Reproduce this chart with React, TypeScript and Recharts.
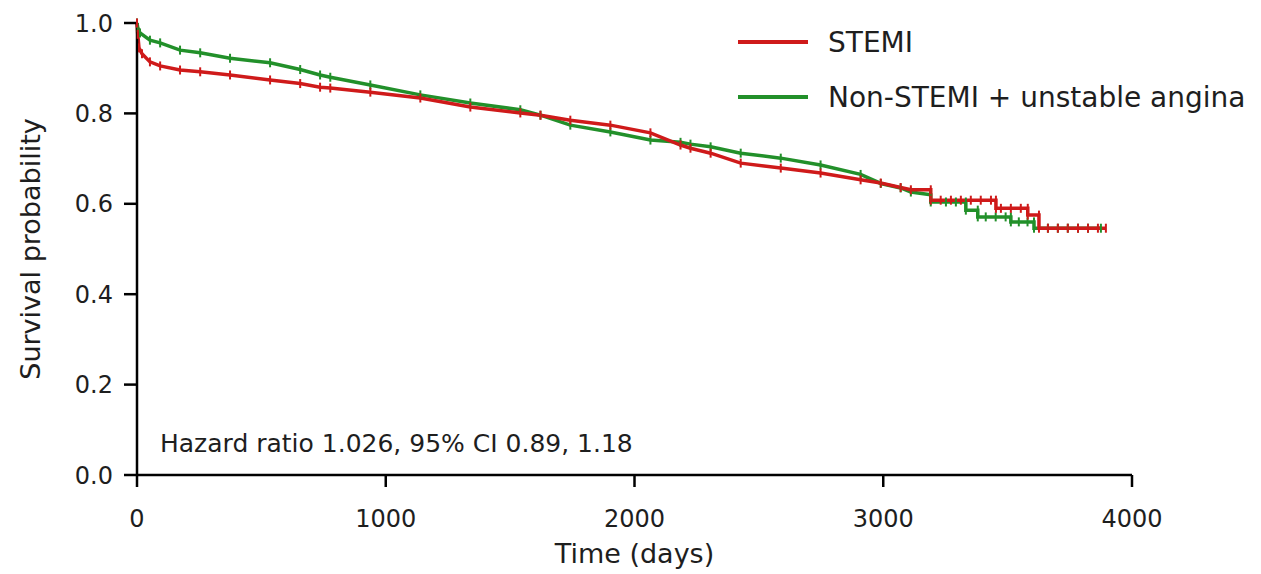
import { LineChart, Line, XAxis, YAxis } from 'recharts';

const stemiDays = [0, 3, 8, 20, 52, 93, 173, 254, 374, 535, 656, 736, 777, 938, 1139, 1340, 1541, 1622, 1742, 1903, 2064, 2185, 2225, 2306, 2427, 2588, 2748, 2909, 2990, 3070, 3111, 3191, 3191, 3231, 3272, 3312, 3352, 3392, 3433, 3453, 3453, 3473, 3513, 3553, 3581, 3581, 3626, 3626, 3662, 3702, 3742, 3783, 3823, 3863, 3895];
const stemiSurv = [1.0, 0.975, 0.945, 0.932, 0.914, 0.905, 0.896, 0.892, 0.885, 0.874, 0.866, 0.858, 0.856, 0.847, 0.834, 0.814, 0.801, 0.796, 0.785, 0.774, 0.757, 0.73, 0.723, 0.712, 0.69, 0.679, 0.668, 0.653, 0.646, 0.636, 0.631, 0.631, 0.608, 0.608, 0.608, 0.608, 0.608, 0.608, 0.608, 0.608, 0.59, 0.59, 0.59, 0.59, 0.59, 0.575, 0.575, 0.546, 0.546, 0.546, 0.546, 0.546, 0.546, 0.546, 0.546];

const nstemiDays = [0, 3, 12, 52, 93, 173, 254, 374, 535, 656, 736, 777, 938, 1139, 1340, 1541, 1622, 1742, 1903, 2064, 2185, 2225, 2306, 2427, 2588, 2748, 2909, 2990, 3070, 3111, 3191, 3191, 3252, 3292, 3332, 3332, 3380, 3380, 3412, 3452, 3492, 3513, 3513, 3545, 3580, 3606, 3606, 3662, 3702, 3742, 3783, 3823, 3875];
const nstemiSurv = [1.0, 0.99, 0.978, 0.962, 0.956, 0.94, 0.934, 0.922, 0.912, 0.897, 0.885, 0.88, 0.863, 0.841, 0.823, 0.808, 0.796, 0.774, 0.759, 0.741, 0.736, 0.732, 0.726, 0.712, 0.701, 0.686, 0.665, 0.645, 0.635, 0.626, 0.62, 0.604, 0.604, 0.604, 0.604, 0.586, 0.586, 0.571, 0.571, 0.571, 0.571, 0.571, 0.56, 0.56, 0.56, 0.56, 0.546, 0.546, 0.546, 0.546, 0.546, 0.546, 0.546];

const xTicks = [0, 1000, 2000, 3000, 4000];
const yTicks = [0, 0.2, 0.4, 0.6, 0.8, 1.0];

const RED = '#cf1a1a';
const GREEN = '#22902a';
const TEXT = '#1e1e1e';
const FONT = '"DejaVu Sans", sans-serif';

const stemiRows = stemiDays.map((t, i) => ({ t, s: stemiSurv[i] }));
const nstemiRows = nstemiDays.map((t, i) => ({ t, s: nstemiSurv[i] }));

// small vertical tick = censoring mark
const censorMark = (color: string) => (props: any) => {
  const { cx, cy, index } = props;
  if (cx == null || cy == null) return <g key={index} />;
  return <path key={index} d={`M${cx},${cy - 4.5}V${cy + 4.5}`} stroke={color} strokeWidth={2} />;
};

const axisStyle = { stroke: '#000', strokeWidth: 2.5 };

export default function App() {
  return (
    <div style={{ position: 'absolute', left: 0, top: 0, width: 1261, height: 574, background: '#fff' }}>
      <LineChart width={1261} height={574} margin={{ top: 23, right: 129, bottom: 0, left: 0 }}>
        <XAxis
          type="number"
          dataKey="t"
          domain={[0, 4000]}
          ticks={xTicks}
          height={99}
          tickSize={12}
          tickMargin={23}
          axisLine={axisStyle}
          tickLine={axisStyle}
          tick={{ fill: TEXT, fontSize: 24, fontFamily: FONT }}
          label={{ value: 'Time (days)', position: 'insideBottom', offset: 11, fill: TEXT, fontSize: 27, fontFamily: FONT }}
        />
        <YAxis
          type="number"
          domain={[0, 1]}
          ticks={yTicks}
          width={137}
          tickSize={13}
          tickMargin={11}
          axisLine={axisStyle}
          tickLine={axisStyle}
          tickFormatter={(v: number) => v.toFixed(1)}
          tick={{ fill: TEXT, fontSize: 24, fontFamily: FONT }}
          label={{ value: 'Survival probability', angle: -90, position: 'center', dx: -38, fill: TEXT, fontSize: 27, fontFamily: FONT }}
        />
        <Line
          data={nstemiRows}
          dataKey="s"
          type="linear"
          stroke={GREEN}
          strokeWidth={3.5}
          dot={censorMark(GREEN)}
          isAnimationActive={false}
        />
        <Line
          data={stemiRows}
          dataKey="s"
          type="linear"
          stroke={RED}
          strokeWidth={3.5}
          dot={censorMark(RED)}
          isAnimationActive={false}
        />
      </LineChart>

      <div style={{ position: 'absolute', left: 738, top: 24, fontFamily: FONT, fontSize: 28, color: TEXT }}>
        <div style={{ display: 'flex', alignItems: 'center', height: 36 }}>
          <span style={{ width: 70, height: 4, background: RED, marginRight: 20 }} />
          STEMI
        </div>
        <div style={{ display: 'flex', alignItems: 'center', height: 36, marginTop: 19 }}>
          <span style={{ width: 70, height: 4, background: GREEN, marginRight: 20 }} />
          Non-STEMI + unstable angina
        </div>
      </div>

      <div style={{ position: 'absolute', left: 160, top: 429, fontFamily: FONT, fontSize: 25, color: TEXT }}>
        Hazard ratio 1.026, 95% CI 0.89, 1.18
      </div>
    </div>
  );
}
